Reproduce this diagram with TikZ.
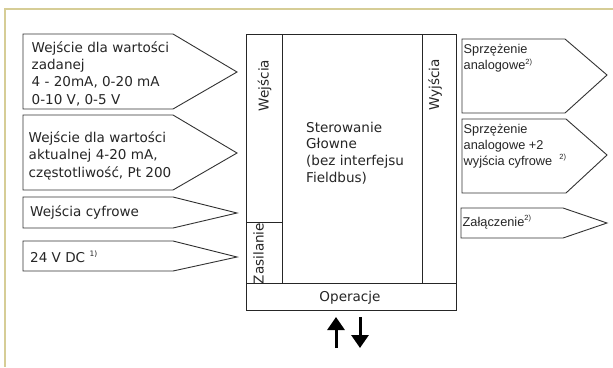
\documentclass[tikz,border=0pt]{standalone}
\usepackage{fontspec}
\setmainfont{DejaVu Sans}
\newfontfamily\rfont{Liberation Sans}
\usetikzlibrary{arrows.meta}
\newcommand\supx[1]{\raisebox{0.45em}{\fontsize{7.5}{8}\selectfont #1}}
\begin{document}
\begin{tikzpicture}[x=1bp,y=-1bp,
  frameline/.style={draw={rgb,255:red,214;green,205;blue,150},line width=1.6bp},
  sig/.style={draw=black!80,line width=0.9bp,fill=white},
  boxline/.style={draw=black!85,line width=1bp},
  ltxt/.style={font=\fontsize{13.6}{17.5}\selectfont,align=left,inner sep=0pt,text=black!85},
  rtxt/.style={font=\rfont\fontsize{12.8}{16.2}\selectfont,align=left,inner sep=0pt,text=black!85},
  ctxt/.style={font=\fontsize{13.6}{16.7}\selectfont,inner sep=0pt,text=black!85},
  bigarrow/.style={line width=3bp,-{Triangle[width=17bp,length=13bp]}}]
\useasboundingbox (0,0) rectangle (613,367);
\fill[white] (0,0) rectangle (613,367);
\draw[frameline] (4,9) -- (613,9);
\draw[frameline] (5,9) -- (5,367);
% left signals
\draw[sig] (23,34) -- (173,34) -- (237,72) -- (173,109) -- (23,109) -- cycle;
\draw[sig] (23,115) -- (173,115) -- (237,153) -- (173,190) -- (23,190) -- cycle;
\draw[sig] (23,197) -- (173,197) -- (237,213) -- (173,228) -- (23,228) -- cycle;
\draw[sig] (23,241) -- (173,241) -- (237,257) -- (173,271) -- (23,271) -- cycle;
\node[ltxt,anchor=west] (in1) at (31.5,73.5) {Wejście dla wartości\\zadanej\\4 - 20mA, 0-20 mA\\0-10 V, 0-5 V};
\node[ltxt,anchor=west] (in2) at (28.5,155.5) {Wejście dla wartości\\aktualnej 4-20 mA,\\częstotliwość, Pt 200};
\node[ltxt,anchor=west] (in3) at (30,212.5) {Wejścia cyfrowe};
\node[ltxt,anchor=west] (in4) at (30,257) {24 V DC \supx{1)}};
% central box
\draw[boxline] (246,34) rectangle (456,310);
\draw[boxline] (282,34) -- (282,283);
\draw[boxline] (422,34) -- (422,283);
\draw[boxline] (246,283) -- (456,283);
\draw[boxline] (246,222) -- (282,222);
\node[ctxt,rotate=90] (wej) at (264.5,85.5) {Wejścia};
\node[ctxt,rotate=90] (wyj) at (435,85) {Wyjścia};
\node[ctxt,rotate=90] (zas) at (258.5,253.5) {Zasilanie};
\node[ctxt,align=left,anchor=west] (ster) at (306,153) {Sterowanie\\Głowne\\(bez interfejsu\\Fieldbus)};
\node[ctxt] (oper) at (350,298) {Operacje};
% right signals
\draw[sig] (462,39) -- (565,39) -- (607,75) -- (565,113) -- (462,113) -- cycle;
\draw[sig] (462,119) -- (566,119) -- (607,155) -- (566,193) -- (462,193) -- cycle;
\draw[sig] (461,208) -- (563,208) -- (607,223) -- (563,238) -- (461,238) -- cycle;
\node[rtxt,anchor=west] (out1) at (463.5,58.5) {Sprzężenie\\analogowe\supx{2)}};
\node[rtxt,anchor=west] (out2) at (463.5,146) {Sprzężenie\\analogowe +2\\wyjścia cyfrowe \ \supx{2)}};
\node[rtxt,anchor=west] (out3) at (462.5,222) {Załączenie\supx{2)}};
% arrows
\coordinate (ua) at (336,348);
\coordinate (ub) at (336,317);
\coordinate (da) at (360,317);
\coordinate (db) at (360,348);
\draw[bigarrow] (ua) -- (ub);
\draw[bigarrow] (da) -- (db);
\end{tikzpicture}
\end{document}
